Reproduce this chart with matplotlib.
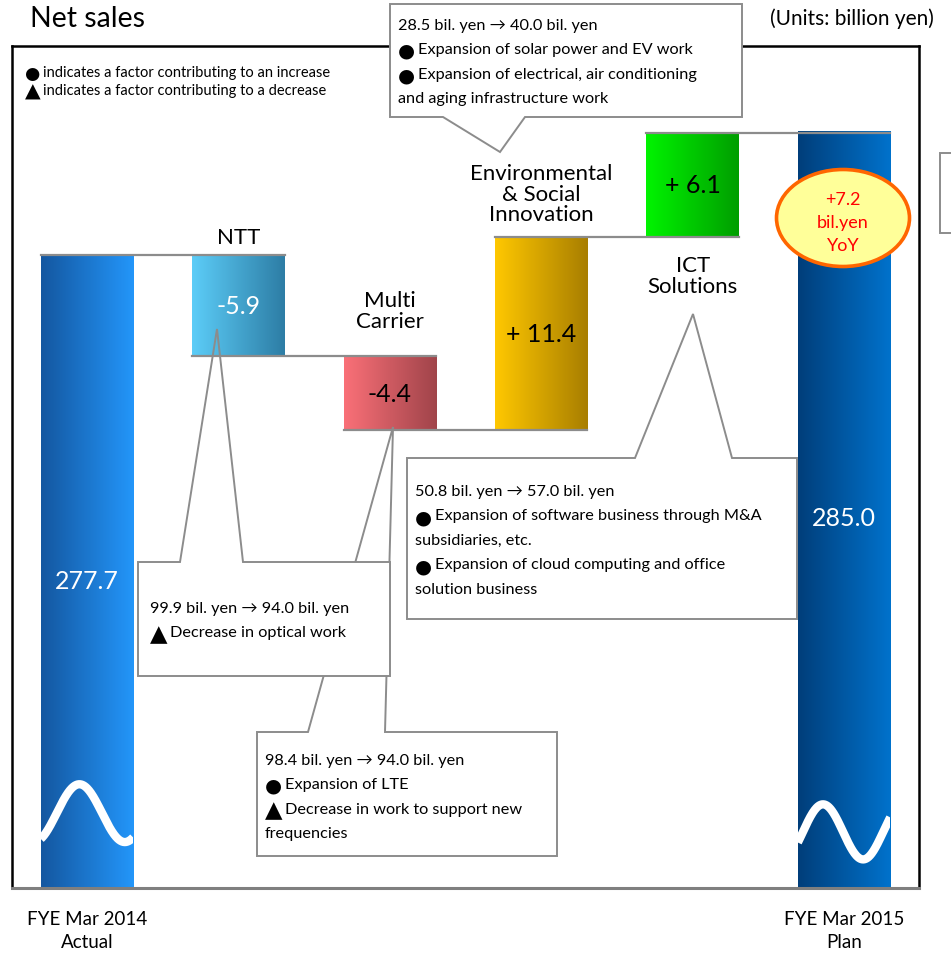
import numpy as np
import matplotlib
matplotlib.use('Agg')
import matplotlib.pyplot as plt
from matplotlib.colors import LinearSegmentedColormap
from matplotlib.patches import Rectangle, Polygon, Ellipse

plt.rcParams['font.family'] = ['Lato', 'DejaVu Sans']

# Datos del gráfico (miles de millones de yenes)
categories = ['FYE Mar 2014\nActual', 'NTT', 'Multi\nCarrier',
              'Environmental\n& Social\nInnovation', 'ICT\nSolutions', 'FYE Mar 2015\nPlan']
start_value = 277.7
changes = [-5.9, -4.4, 11.4, 6.1]
end_value = 285.0
value_labels = ['277.7', '-5.9', '-4.4', '+ 11.4', '+ 6.1', '285.0']

left_colors = ['#1457A0', '#5CCDF8', '#FA7078', '#FFC800', '#00F400', '#003E7A']
right_colors = ['#2396FA', '#2D7DA5', '#A0444A', '#A87E00', '#009E00', '#0072CC']
label_colors = ['white', 'white', 'black', 'black', 'black', 'white']

ntt_text = ['99.9 bil. yen \u2192 94.0 bil. yen', '\u25B2 Decrease in optical work']
mc_text = ['98.4 bil. yen \u2192 94.0 bil. yen', '\u25CF Expansion of LTE',
           '\u25B2 Decrease in work to support new', 'frequencies']
env_text = ['28.5 bil. yen \u2192 40.0 bil. yen', '\u25CF Expansion of solar power and EV work',
            '\u25CF Expansion of electrical, air conditioning', 'and aging infrastructure work']
ict_text = ['50.8 bil. yen \u2192 57.0 bil. yen', '\u25CF Expansion of software business through M&A',
            'subsidiaries, etc.', '\u25CF Expansion of cloud computing and office',
            'solution business']
legend_text = ['\u25CF indicates a factor contributing to an increase',
               '\u25B2 indicates a factor contributing to a decrease']

W, H = 951, 954
fig = plt.figure(figsize=(W / 100, H / 100), dpi=100)

# Eje principal (marco)
y_lo, y_hi = 240.5, 290.0
ax = fig.add_axes([12 / W, (H - 889) / H, (919 - 12) / W, (889 - 47) / H])
ax.set_xlim(-0.495, 5.495)
ax.set_ylim(y_lo, y_hi)
ax.set_xticks([])
ax.set_yticks([])
for s in ['left', 'top', 'right']:
    ax.spines[s].set_color('black')
    ax.spines[s].set_linewidth(1.8)
ax.spines['bottom'].set_color('#7F7F7F')
ax.spines['bottom'].set_linewidth(2.2)

# Cascada
bottoms, tops = [y_lo], [start_value]
levels = [start_value]
level = start_value
for d in changes:
    new = level + d
    bottoms.append(min(level, new))
    tops.append(max(level, new))
    levels.append(new)
    level = new
bottoms.append(y_lo)
tops.append(end_value)

x = np.arange(len(categories))
width = 0.61
bars = ax.bar(x, np.array(tops) - np.array(bottoms), bottom=bottoms, width=width,
              color='none', edgecolor='none', zorder=2)

grad = np.linspace(0, 1, 256).reshape(1, -1)
for i, b in enumerate(bars):
    cmap = LinearSegmentedColormap.from_list('g%d' % i, [left_colors[i], right_colors[i]])
    ax.imshow(grad, cmap=cmap, aspect='auto', zorder=2,
              extent=(b.get_x(), b.get_x() + b.get_width(), b.get_y(), b.get_y() + b.get_height()))

# Líneas de conexión
for i in range(len(categories) - 1):
    lvl = levels[i]
    ax.plot([x[i] - width / 2, x[i + 1] + width / 2], [lvl, lvl], color='#8C8C8C', lw=1.6, zorder=3)

# Onda de corte en barras de total
for i, cy, amp, peak, per in [(0, 244.9, 1.7, -0.05, 0.6), (5, 243.8, 1.62, -0.139, 0.53)]:
    xs = np.linspace(x[i] - width / 2, x[i] + width / 2, 200)
    ys = cy + amp * np.cos(2 * np.pi * (xs - (x[i] + peak)) / per)
    ln, = ax.plot(xs, ys, color='white', lw=6, solid_capstyle='butt', zorder=4)
    ln.set_clip_path(bars[i])

# Etiquetas de valor
label_y = [258.6] + [(bottoms[i] + tops[i]) / 2 for i in range(1, 5)] + [262.3]
for i in range(len(categories)):
    ax.text(x[i], label_y[i], value_labels[i], color=label_colors[i], fontsize=18,
            ha='center', va='center', zorder=5)

# Etiquetas de categoría junto a las barras
cat_offsets = {1: (tops[1], 18), 2: (tops[2], 45), 3: (tops[3], 43), 4: (bottoms[4], -39)}
for i, (yv, off) in cat_offsets.items():
    ax.annotate(categories[i], xy=(x[i], yv), xytext=(0, off), textcoords='offset pixels',
                ha='center', va='center', fontsize=16, linespacing=1.05, zorder=5)

ax.set_xlim(-0.495, 5.495)
ax.set_ylim(y_lo, y_hi)

# Capa superior en píxeles para anotaciones
ov = fig.add_axes([0, 0, 1, 1], zorder=10)
ov.set_xlim(0, W)
ov.set_ylim(H, 0)
ov.axis('off')
ov.patch.set_alpha(0)


def text_line(tx, ty, t, fs, gap=18):
    if t[0] in '\u25CF\u25B2':
        sym_fs = fs * 1.2 if t[0] == '\u25CF' else fs * 1.4
        ov.text(tx, ty + 1, t[0], fontsize=sym_fs, family='DejaVu Sans', ha='left', va='center')
        ov.text(tx + gap, ty, t[2:], fontsize=fs, ha='left', va='center')
    else:
        ov.text(tx, ty, t, fontsize=fs, ha='left', va='center')


ov.text(30, 19, 'Net sales', fontsize=20.5, ha='left', va='center')
ov.text(770, 19, '(Units: billion yen)', fontsize=15, ha='left', va='center')
text_line(25, 73, legend_text[0], 10.5, gap=18)
text_line(25, 91, legend_text[1], 10.5, gap=18)

ov.text(87, 931, categories[0], fontsize=13.5, ha='center', va='center', linespacing=1.4)
ov.text(844, 931, categories[5], fontsize=13.5, ha='center', va='center', linespacing=1.4)


def callout(x0, y0, x1, y1, base_l, base_r, tip, lines, tx, ty0, dy, top=True, fs=11.7):
    ov.add_patch(Rectangle((x0, y0), x1 - x0, y1 - y0, facecolor='white', edgecolor='none'))
    if top:
        pts = [(x0, y1), (x0, y0), (base_l, y0), tip, (base_r, y0), (x1, y0), (x1, y1)]
    else:
        pts = [(x0, y0), (x0, y1), (base_l, y1), tip, (base_r, y1), (x1, y1), (x1, y0)]
    ov.add_patch(Polygon(pts, closed=True, fill=False, edgecolor='#8C8C8C', lw=1.4))
    for k, t in enumerate(lines):
        text_line(tx, ty0 + k * dy, t, fs, gap=20)


callout(257, 733, 557, 857, 308, 385, (393, 428), mc_text, 265, 761, 24.4)
callout(138, 563, 390, 677, 180, 243, (217, 330), ntt_text, 150, 609, 24.4)
callout(407, 459, 797, 620, 635, 732, (693, 315), ict_text, 415, 492, 24.5)
callout(390, 5, 742, 118, 443, 525, (500, 153), env_text, 398, 26, 24.4, top=False)

# Caja parcial en el borde derecho
ov.add_patch(Rectangle((940, 154), 40, 80, facecolor='white', edgecolor='#8C8C8C', lw=1.4))

# Óvalo de variación interanual
ov.add_patch(Ellipse((843, 219), 133, 97, facecolor='#FFFF99', edgecolor='#FF6600', lw=2.6))
ov.text(843, 223, '+7.2\nbil.yen\nYoY', color='#FF0000', fontsize=13, ha='center',
        va='center', linespacing=1.55)

plt.savefig('out.png', dpi=100)
